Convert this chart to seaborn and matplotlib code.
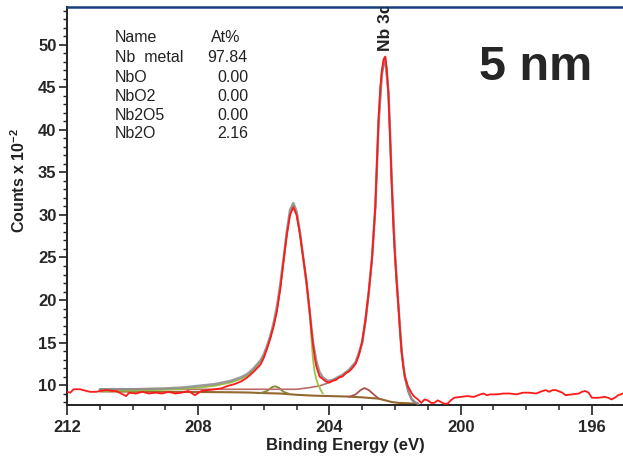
import matplotlib
matplotlib.use("Agg")
import matplotlib.pyplot as plt
import seaborn as sns
from matplotlib.ticker import MultipleLocator

# values (binding energy in eV, counts x 1e-2)
raw_points = [(212.0, 9.2), (211.9, 9.1), (211.8, 9.5), (211.6, 9.5), (211.5, 9.4), (211.3, 9.2),
              (211.1, 9.2), (211.0, 9.3), (210.8, 9.4), (210.6, 9.3), (210.5, 9.3), (210.4, 9.1),
              (210.2, 8.7), (210.1, 9.1), (209.9, 9.0), (209.7, 9.2), (209.5, 9.0), (209.3, 9.1),
              (209.1, 9.0), (208.9, 9.2), (208.7, 9.0), (208.5, 9.1), (208.3, 9.3), (208.1, 8.8),
              (207.9, 9.3), (207.7, 9.4), (207.5, 9.5), (207.3, 9.6), (207.1, 9.9), (206.9, 10.1),
              (206.7, 10.4), (206.5, 10.9), (206.3, 11.6), (206.1, 12.4), (206.0, 13.2), (205.9, 14.3),
              (205.8, 15.5), (205.7, 16.9), (205.6, 18.7), (205.5, 21.2), (205.4, 24.5), (205.3, 27.6),
              (205.2, 30.0), (205.1, 30.9), (205.0, 30.0), (204.9, 27.8), (204.8, 25.0), (204.7, 22.2),
              (204.6, 18.6), (204.55, 16.5), (204.5, 14.8), (204.45, 13.3), (204.4, 12.2), (204.3, 11.0),
              (204.2, 10.7), (204.1, 10.4), (204.0, 10.3), (203.9, 10.5), (203.8, 10.6), (203.7, 10.9),
              (203.6, 11.0), (203.5, 11.4), (203.4, 11.6), (203.3, 12.0), (203.2, 12.5), (203.1, 13.5),
              (203.0, 15.2), (202.9, 17.8), (202.8, 21.0), (202.7, 25.0), (202.6, 31.0), (202.55, 36.5),
              (202.5, 41.5), (202.45, 45.0), (202.4, 47.0), (202.35, 48.3), (202.3, 48.6), (202.25, 47.2),
              (202.2, 44.0), (202.15, 39.2), (202.1, 33.5), (202.05, 28.5), (202.0, 25.0), (201.95, 22.0),
              (201.9, 19.5), (201.85, 16.5), (201.8, 14.0), (201.75, 12.2), (201.7, 11.0), (201.6, 9.8),
              (201.5, 9.1), (201.45, 8.8), (201.4, 8.6), (201.3, 8.3), (201.2, 7.9), (201.1, 8.3),
              (201.0, 8.2), (200.9, 7.9), (200.8, 7.9), (200.7, 8.2), (200.6, 8.0), (200.5, 7.8),
              (200.4, 7.8), (200.3, 8.2), (200.2, 8.5), (200.0, 8.6), (199.8, 8.7), (199.6, 8.6),
              (199.4, 8.9), (199.3, 9.0), (199.2, 8.8), (199.1, 8.9), (198.9, 8.9), (198.7, 9.0),
              (198.5, 9.0), (198.3, 8.9), (198.1, 9.1), (197.9, 9.1), (197.7, 9.0), (197.5, 9.3),
              (197.4, 9.4), (197.3, 9.2), (197.2, 9.4), (197.1, 9.4), (196.9, 9.1), (196.8, 8.8),
              (196.6, 8.9), (196.4, 9.0), (196.3, 9.2), (196.2, 9.3), (196.1, 9.1), (196.0, 8.5),
              (195.8, 8.5), (195.6, 8.6), (195.5, 8.5), (195.4, 8.3), (195.3, 8.5), (195.2, 8.8),
              (195.05, 9.0)]

envelope_points = [(211.0, 9.5), (210.0, 9.5), (209.0, 9.6), (208.5, 9.7), (208.0, 9.9), (207.5, 10.1),
                   (207.0, 10.5), (206.7, 10.9), (206.5, 11.3), (206.3, 12.0), (206.1, 12.9), (206.0, 13.6),
                   (205.9, 14.6), (205.8, 15.8), (205.7, 17.3), (205.6, 19.2), (205.5, 21.8), (205.4, 24.8),
                   (205.3, 28.0), (205.2, 30.6), (205.1, 31.4), (205.0, 30.4), (204.9, 28.0), (204.8, 25.0),
                   (204.7, 22.0), (204.6, 18.5), (204.5, 15.0), (204.4, 12.8), (204.3, 11.5), (204.2, 10.9),
                   (204.1, 10.6), (204.0, 10.5), (203.9, 10.6), (203.8, 10.8), (203.6, 11.2), (203.4, 11.8),
                   (203.2, 12.7), (203.0, 15.0), (202.9, 17.6), (202.8, 21.0), (202.7, 25.0), (202.6, 31.0),
                   (202.5, 41.0), (202.4, 46.8), (202.3, 48.6), (202.2, 44.5), (202.1, 34.0), (202.0, 25.5),
                   (201.9, 19.5), (201.8, 14.0), (201.7, 11.0), (201.6, 9.4), (201.5, 8.4), (201.4, 8.0),
                   (201.3, 7.8)]

metal_32_points = [(211.0, 9.3), (210.0, 9.35), (209.0, 9.45), (208.5, 9.55), (208.0, 9.7), (207.5, 9.9),
                   (207.0, 10.3), (206.7, 10.7), (206.5, 11.1), (206.3, 11.8), (206.1, 12.7), (206.0, 13.4),
                   (205.9, 14.4), (205.8, 15.6), (205.7, 17.0), (205.6, 18.9), (205.5, 21.5), (205.4, 24.5),
                   (205.3, 27.7), (205.2, 30.3), (205.1, 31.1), (205.0, 30.0), (204.9, 27.8), (204.8, 25.0),
                   (204.7, 22.2), (204.6, 18.5), (204.55, 15.5), (204.5, 13.0), (204.45, 11.5), (204.4, 10.7),
                   (204.35, 10.1), (204.3, 9.7), (204.25, 9.3), (204.2, 9.0)]

metal_52_points = [(211.0, 9.5), (209.0, 9.5), (207.0, 9.5), (205.0, 9.5), (204.6, 9.7), (204.3, 9.9),
                   (204.0, 10.3), (203.8, 10.7), (203.6, 11.1), (203.4, 11.7), (203.2, 12.6), (203.1, 13.6),
                   (203.0, 14.9), (202.9, 17.4), (202.8, 20.8), (202.7, 24.8), (202.6, 30.8), (202.5, 40.8),
                   (202.4, 46.5), (202.3, 48.4), (202.2, 44.3), (202.1, 33.8), (202.0, 25.3), (201.9, 19.3),
                   (201.8, 13.8), (201.7, 10.8), (201.6, 9.2), (201.5, 8.3), (201.4, 7.95), (201.3, 7.8)]

suboxide_32_points = [(206.1, 9.05), (205.9, 9.3), (205.75, 9.75), (205.65, 9.85), (205.55, 9.7),
                      (205.4, 9.2), (205.25, 9.0)]

suboxide_52_points = [(203.4, 8.6), (203.2, 8.9), (203.05, 9.4), (202.93, 9.65), (202.8, 9.4),
                      (202.65, 8.9), (202.5, 8.4)]

background_points = [(211.0, 9.25), (210.0, 9.22), (209.0, 9.2), (208.0, 9.18), (207.0, 9.15), (206.5, 9.12),
                     (206.0, 9.05), (205.5, 9.0), (205.0, 8.85), (204.5, 8.75), (204.0, 8.7), (203.5, 8.65),
                     (203.0, 8.55), (202.5, 8.4), (202.3, 8.2), (202.1, 8.0), (201.9, 7.9), (201.6, 7.85),
                     (201.3, 7.8)]

names = ["Name", "Nb  metal", "NbO", "NbO2", "Nb2O5", "Nb2O"]
at_percent = ["At%", "97.84", "0.00", "0.00", "0.00", "2.16"]

sns.set_style("ticks")
plt.rcParams['font.family'] = ['Liberation Sans', 'DejaVu Sans']
plt.rcParams['font.weight'] = 'bold'
plt.rcParams['mathtext.fontset'] = 'custom'
plt.rcParams['mathtext.rm'] = 'Liberation Sans:bold'
plt.rcParams['mathtext.it'] = 'Liberation Sans:bold'
plt.rcParams['mathtext.bf'] = 'Liberation Sans:bold'

W, H = 623, 462
fig = plt.figure(figsize=(W / 100, H / 100), dpi=100)
ax = fig.add_axes([67 / W, 57 / H, 556 / W, 398.3 / H])


def draw(points, color, lw, z, alpha=1.0):
    e, c = zip(*points)
    sns.lineplot(x=list(e), y=list(c), ax=ax, color=color, lw=lw, alpha=alpha,
                 zorder=z, estimator=None, errorbar=None)


draw(background_points, '#94672e', 1.5, 2)
draw(suboxide_32_points, '#86883a', 1.3, 3)
draw(suboxide_52_points, '#a8524e', 1.3, 3)
draw(metal_52_points, '#b96d69', 1.2, 3)
draw(metal_32_points, '#9cc443', 1.3, 4)
draw(envelope_points, '#8a8a8a', 1.8, 5, alpha=0.85)
draw(raw_points, '#ff1a1a', 1.3, 6)

ax.set_xlim(212, 195.05)
ax.set_ylim(7.65, 54.5)
ax.xaxis.set_major_locator(MultipleLocator(4))
ax.xaxis.set_minor_locator(MultipleLocator(1))
ax.yaxis.set_major_locator(MultipleLocator(5))
ax.yaxis.set_minor_locator(MultipleLocator(1))

ax.tick_params(axis='x', which='major', length=7.5, width=1.2, labelsize=12, pad=3, color='#222222')
ax.tick_params(axis='x', which='minor', length=3.8, width=1.1, color='#222222')
ax.tick_params(axis='y', which='major', length=6, width=1.2, labelsize=12, pad=1.5, color='#222222')
ax.tick_params(axis='y', which='minor', length=3, width=1.0, color='#222222')

for side in ['left', 'bottom']:
    ax.spines[side].set_color('#222222')
    ax.spines[side].set_linewidth(1.4)
ax.spines['right'].set_visible(False)
ax.spines['top'].set_color('#173f80')
ax.spines['top'].set_linewidth(1.8)

ax.set_xlabel('Binding Energy (eV)', fontsize=12, fontweight='bold', color='#222222')
ax.xaxis.set_label_coords(0.5, -0.082)
ax.set_ylabel('Counts x 10$^{-2}$', fontsize=11.5, fontweight='bold', color='#222222')
ax.yaxis.set_label_coords(-0.07, 0.565)

ax.text(202.3, 49.3, 'Nb 3d', rotation=90, ha='center', va='bottom', fontsize=12.5,
        fontweight='bold', color='#222222', clip_on=True)

fig.text(536 / W, 1 - 67.5 / H, '5 nm', fontsize=35, fontweight='bold', color='#262626',
         ha='center', va='center')

row_y = [38, 57, 77, 96, 115, 134]
for i, (n, v) in enumerate(zip(names, at_percent)):
    y = 1 - row_y[i] / H
    fig.text(115 / W, y, n, fontsize=11.5, fontweight='normal', color='#222222', ha='left', va='center')
    if i == 0:
        fig.text(211 / W, y, v, fontsize=11.5, fontweight='normal', color='#222222', ha='left', va='center')
    else:
        fig.text(248 / W, y, v, fontsize=11.5, fontweight='normal', color='#222222', ha='right', va='center')

fig.savefig('out.png', dpi=100)
